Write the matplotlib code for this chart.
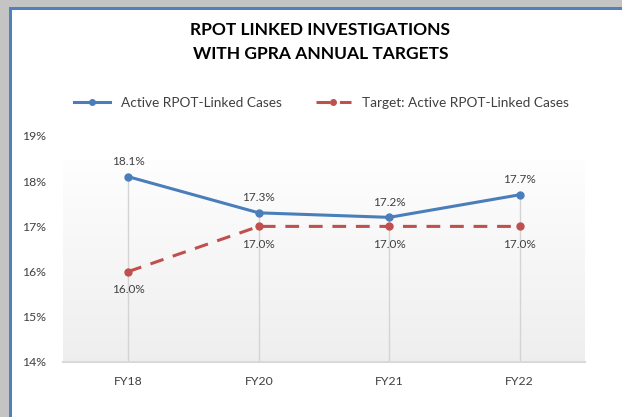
import numpy as np
import matplotlib.pyplot as plt
from matplotlib.patches import Rectangle
from matplotlib.ticker import FuncFormatter

# ---- data ----
categories = ["FY18", "FY20", "FY21", "FY22"]
active_cases = [18.1, 17.3, 17.2, 17.7]
target_cases = [16.0, 17.0, 17.0, 17.0]
y_ticks = [14, 15, 16, 17, 18, 19]

BLUE = "#4a7ebb"
RED = "#c0504d"
TXT = "#404040"

plt.rcParams['font.family'] = ['Lato', 'DejaVu Sans']

W, H = 622, 417
fig = plt.figure(figsize=(W / 100, H / 100), dpi=100)
fig.patch.set_facecolor("white")

# window-style frame: gray shadow + blue edge on top and left
fig.patches.append(Rectangle((0, 1 - 7 / H), 1, 7 / H, transform=fig.transFigure,
                             facecolor="#c4c4c4", edgecolor="none", zorder=0))
fig.patches.append(Rectangle((0, 0), 9 / W, 1, transform=fig.transFigure,
                             facecolor="#c4c4c4", edgecolor="none", zorder=0))
fig.patches.append(Rectangle((9 / W, 0), 2.5 / W, 1 - 7 / H, transform=fig.transFigure,
                             facecolor="#4f81bd", edgecolor="none", zorder=1))
fig.patches.append(Rectangle((9 / W, 1 - 9.5 / H), 1 - 9 / W, 2.5 / H, transform=fig.transFigure,
                             facecolor="#4f81bd", edgecolor="none", zorder=1))

ax = fig.add_axes([63 / W, 1 - 362 / H, (585 - 63) / W, (362 - 136) / H])
x = np.arange(len(categories))

# soft gradient plot-area background (starts a bit below the top)
grad = np.linspace(0.995, 0.935, 256).reshape(-1, 1)
ax.imshow(np.dstack([grad, grad, grad]), extent=(-0.5, 3.5, 14, 18.45),
          aspect="auto", zorder=0, origin="upper")

# drop lines from the highest point down to the axis
tops = [max(a, t) for a, t in zip(active_cases, target_cases)]
ax.vlines(x, 14, tops, color="#d4d4d4", linewidth=1, zorder=1)

ax.plot(x, active_cases, color=BLUE, linewidth=2.2, marker="o", markersize=5,
        label="Active RPOT-Linked Cases", zorder=4)
ax.plot(x, target_cases, color=RED, linewidth=2.2, linestyle=(0, (4.5, 3.2)),
        marker="o", markersize=5, label="Target: Active RPOT-Linked Cases", zorder=3)

for xi, v in zip(x, active_cases):
    ax.annotate(f"{v:.1f}%", (xi, v), xytext=(0, 7), textcoords="offset points",
                ha="center", va="bottom", fontsize=8.5, color=TXT)
for xi, v in zip(x, target_cases):
    ax.annotate(f"{v:.1f}%", (xi, v), xytext=(0, -9), textcoords="offset points",
                ha="center", va="top", fontsize=8.5, color=TXT)

ax.set_xlim(-0.5, 3.5)
ax.set_ylim(14, 19)
ax.set_xticks(x)
ax.set_xticklabels(categories)
ax.set_yticks(y_ticks)
ax.yaxis.set_major_formatter(FuncFormatter(lambda v, p: f"{int(v)}%"))
ax.tick_params(axis="both", length=0, labelsize=8.8, labelcolor=TXT)
ax.tick_params(axis="y", pad=12)
ax.tick_params(axis="x", pad=10)

for side in ["top", "right", "left"]:
    ax.spines[side].set_visible(False)
ax.spines["bottom"].set_color("#d9d9d9")
ax.spines["bottom"].set_linewidth(1.5)

fig.text(0.515, 1 - 42 / H, "RPOT LINKED INVESTIGATIONS\nWITH GPRA ANNUAL TARGETS",
         ha="center", va="center", fontsize=12.5, fontweight="bold", color="black",
         linespacing=1.55)

fig.legend(loc="center", bbox_to_anchor=(0.517, 1 - 103 / H), ncol=2, frameon=False,
           fontsize=9.8, handlelength=2.6, columnspacing=2.5, markerscale=0.8,
           labelcolor=TXT)

fig.savefig("out.png", dpi=100, facecolor="white")
